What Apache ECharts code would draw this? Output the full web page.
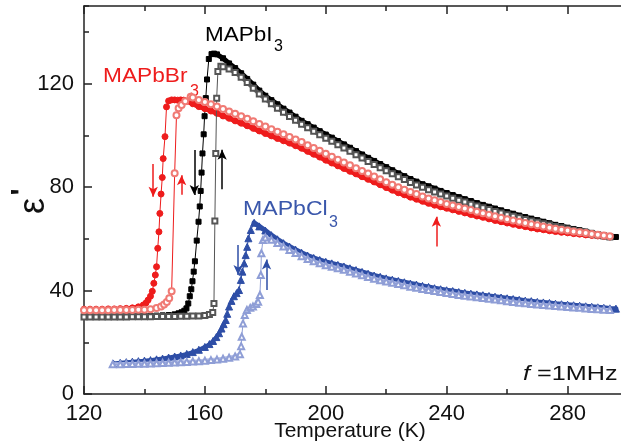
<!DOCTYPE html>
<html>
<head>
<meta charset="utf-8">
<script src="https://cdn.jsdelivr.net/npm/echarts@6/dist/echarts.min.js"></script>
<style>
html,body{margin:0;padding:0;background:#fff;}
#chart{width:621px;height:445px;}
</style>
</head>
<body>
<div id="chart"></div>
<script>
// ---- Data (Temperature K, epsilon') ----
const xTicks = [120, 160, 200, 240, 280];
const yTicks = [0, 40, 80, 120];
const xTitle = 'Temperature (K)';

const MAPbI3_cooling = [[120,30.0],[122,30.0],[124,30.0],[126,30.0],[128,30.0],[130,30.0],[132,30.0],[134,30.1],[136,30.1],[138,30.1],[140,30.2],[142,30.2],[144,30.3],[146,30.4],[148,30.5],[150,30.8],[151.3,31.2],[152.3,31.6],[153.2,32.2],[153.9,33.1],[154.5,35.0],[155.0,37.8],[155.5,40.5],[155.9,43.6],[156.3,47.3],[156.7,51.3],[157.3,59.3],[157.9,66.6],[158.3,72.5],[158.6,78.5],[158.9,85.6],[159.2,93.0],[159.6,100.4],[159.9,107.4],[160.3,114.4],[160.7,121.6],[161.3,129.5],[162.2,131.4],[163,131.6],[164,131.3],[166,129.8],[168,127.8],[170,126.0],[172,124.0],[174,121.8],[176,119.6],[178,117.3],[180,115.3],[182,113.6],[184,112.0],[186,110.3],[188,108.8],[190,107.2],[192,105.6],[194,104.3],[196,103.0],[198,101.6],[200,100.3],[202,99.1],[204,97.8],[206,96.5],[208,95.2],[210,93.9],[212,92.6],[214,91.3],[216,90.1],[218,88.9],[220,87.7],[222,86.5],[224,85.3],[226,84.2],[228,83.1],[230,82.1],[232,81.1],[234,80.3],[236,79.4],[238,78.5],[240,77.7],[242,76.9],[244,76.1],[246,75.3],[248,74.6],[250,73.8],[252,73.1],[254,72.4],[256,71.7],[258,71.0],[260,70.3],[262,69.7],[264,69.0],[266,68.4],[268,67.8],[270,67.2],[272,66.6],[274,66.0],[276,65.4],[278,64.9],[280,64.3],[282,63.8],[284,63.3],[286,62.8],[288,62.3],[290,61.8],[292,61.4],[294,61.0],[296,60.7]];

const MAPbI3_heating = [[120,29.8],[122,29.8],[124,29.8],[126,29.8],[128,29.8],[130,29.8],[132,29.8],[134,29.8],[136,29.9],[138,29.9],[140,29.9],[142,29.9],[144,30.0],[146,30.0],[148,30.0],[150,30.0],[152,30.1],[154,30.1],[156,30.2],[158,30.2],[160,30.3],[161.5,30.7],[162.6,31.5],[163.0,35.0],[163.3,66.9],[163.6,93.0],[163.9,114.3],[164.3,124.7],[165.3,126.7],[166,126.5],[168,125.6],[170,124.3],[172,122.5],[174,120.4],[176,118.2],[178,116.0],[180,114.0],[182,112.2],[184,110.5],[186,108.9],[188,107.3],[190,105.8],[192,104.3],[194,102.9],[196,101.6],[198,100.2],[200,98.9],[202,97.7],[204,96.4],[206,95.1],[208,93.8],[210,92.5],[212,91.2],[214,89.9],[216,88.7],[218,87.5],[220,86.3],[222,85.1],[224,84.0],[226,82.9],[228,81.8],[230,80.8],[232,79.9],[234,79.0],[236,78.1],[238,77.3],[240,76.5],[242,75.7],[244,74.9],[246,74.2],[248,73.4],[250,72.7],[252,72.0],[254,71.3],[256,70.6],[258,70.0],[260,69.3],[262,68.7],[264,68.1],[266,67.5],[268,66.9],[270,66.4],[272,65.8],[274,65.3],[276,64.8],[278,64.3],[280,63.8],[282,63.3],[284,62.8],[286,62.4],[288,61.9],[290,61.5],[292,61.1],[294,60.7]];

const MAPbBr3_cooling = [[120,32.8],[122,32.8],[124,32.8],[126,32.8],[128,32.9],[130,32.9],[132,33.0],[134,33.1],[136,33.3],[138,33.7],[139.6,34.4],[140.5,35.2],[141.2,36.3],[142.0,37.8],[142.6,39.7],[143.1,42.8],[143.6,46.0],[144.0,49.2],[144.4,56.3],[144.8,62.7],[145.1,69.8],[145.5,77.3],[145.9,83.7],[146.2,91.0],[146.8,99.5],[147.3,111.0],[148,113.3],[149,113.7],[150,113.7],[151,113.6],[152,113.7],[153,113.6],[154,113.2],[156,112.2],[158,111.1],[160,110.3],[162,109.4],[164,108.5],[166,107.5],[168,106.6],[170,105.6],[172,104.7],[174,103.7],[176,102.7],[178,101.7],[180,100.7],[182,99.8],[184,98.8],[186,97.9],[188,97.0],[190,96.0],[192,95.0],[194,93.8],[196,92.7],[198,91.6],[200,90.4],[202,89.3],[204,88.2],[206,87.2],[208,86.1],[210,85.1],[212,84.0],[214,83.0],[216,82.0],[218,80.9],[220,79.8],[222,78.8],[224,77.8],[226,77.0],[228,76.1],[230,75.3],[232,74.5],[234,73.7],[236,73.0],[238,72.4],[240,71.8],[242,71.2],[244,70.6],[246,70.0],[248,69.4],[250,68.8],[252,68.3],[254,67.7],[256,67.1],[258,66.6],[260,66.1],[262,65.6],[264,65.1],[266,64.7],[268,64.2],[270,63.8],[272,63.5],[274,63.1],[276,62.8],[278,62.5],[280,62.3],[282,62.0],[284,61.8],[286,61.5],[288,61.3],[290,61.1],[292,60.9],[294,60.7]];

const MAPbBr3_heating = [[120,32.4],[122,32.4],[124,32.4],[126,32.4],[128,32.4],[130,32.5],[132,32.5],[134,32.5],[136,32.5],[138,32.6],[140,32.6],[142,32.8],[144,33.2],[145.5,33.8],[146.5,34.6],[147.4,35.6],[148.2,37.0],[149.0,39.7],[150.0,85.3],[150.6,107.8],[151.3,110.5],[152.3,111.7],[153.5,113.2],[155.3,114.9],[156,114.6],[158,113.7],[160,112.9],[162,112.0],[164,111.1],[166,110.2],[168,109.2],[170,108.3],[172,107.4],[174,106.4],[176,105.4],[178,104.4],[180,103.4],[182,102.4],[184,101.4],[186,100.4],[188,99.4],[190,98.4],[192,97.4],[194,96.2],[196,95.1],[198,94.0],[200,92.9],[202,91.7],[204,90.6],[206,89.5],[208,88.4],[210,87.3],[212,86.2],[214,85.2],[216,84.1],[218,83.0],[220,81.9],[222,80.9],[224,79.9],[226,79.0],[228,78.1],[230,77.3],[232,76.4],[234,75.6],[236,74.9],[238,74.2],[240,73.5],[242,72.9],[244,72.3],[246,71.7],[248,71.1],[250,70.5],[252,69.9],[254,69.3],[256,68.7],[258,68.1],[260,67.6],[262,67.1],[264,66.6],[266,66.1],[268,65.6],[270,65.2],[272,64.8],[274,64.3],[276,63.9],[278,63.5],[280,63.2],[282,62.8],[284,62.5],[286,62.2],[288,61.9],[290,61.6],[292,61.3],[294,61.0]];

const MAPbCl3_cooling = [[129.7,11.8],[132,12.1],[134,12.3],[136,12.5],[138,12.7],[140,12.9],[142,13.1],[144,13.4],[146,13.7],[148,14.1],[150,14.5],[152,14.9],[154,15.5],[156,16.2],[158,17.1],[160,18.2],[161.5,19.3],[162.7,20.5],[163.8,22.0],[164.7,23.5],[165.5,25.3],[166.2,27.0],[166.9,28.6],[167.4,31.0],[168,33.8],[168.8,36.0],[169.6,37.8],[170.5,39.0],[171.3,40.2],[171.9,44.1],[172.4,47.3],[173,50.5],[173.5,53.7],[174,56.9],[174.4,60.2],[175.2,63.4],[176.3,66.2],[178,64.8],[180,63.2],[182,61.4],[184,59.8],[186,58.3],[188,57.0],[190,55.8],[192,54.6],[194,53.5],[196,52.6],[198,51.8],[200,51.1],[202,50.5],[204,49.9],[206,49.3],[208,48.6],[210,47.9],[212,47.2],[214,46.5],[216,45.8],[218,45.3],[220,44.7],[222,44.2],[224,43.7],[226,43.2],[228,42.7],[230,42.3],[232,41.8],[234,41.4],[236,40.9],[238,40.5],[240,40.1],[242,39.8],[244,39.4],[246,39.1],[248,38.8],[250,38.5],[252,38.2],[254,37.9],[256,37.6],[258,37.3],[260,37.0],[262,36.7],[264,36.4],[266,36.1],[268,35.9],[270,35.6],[272,35.4],[274,35.2],[276,34.9],[278,34.7],[280,34.5],[282,34.3],[284,34.1],[286,33.9],[288,33.7],[290,33.5],[292,33.3],[294,33.1],[296,33.0]];

const MAPbCl3_heating = [[129.5,11.5],[132,11.5],[134,11.6],[136,11.6],[138,11.7],[140,11.7],[142,11.8],[144,11.9],[146,12.0],[148,12.1],[150,12.2],[152,12.3],[154,12.4],[156,12.6],[158,12.7],[160,12.9],[162,13.1],[164,13.3],[166,13.6],[168,14.0],[170,14.5],[171.6,15.4],[172.0,18.5],[172.2,22.1],[172.6,27.3],[173.2,30.5],[173.9,32.5],[175,33.3],[175.9,33.8],[177,34.8],[177.6,35.7],[178.2,38.3],[178.5,46.0],[178.7,54.4],[179.2,59.5],[180,60.5],[182,59.6],[184,58.4],[186,57.0],[188,55.7],[190,54.5],[192,53.3],[194,52.2],[196,51.3],[198,50.5],[200,49.8],[202,49.2],[204,48.6],[206,48.0],[208,47.3],[210,46.6],[212,45.9],[214,45.2],[216,44.6],[218,44.0],[220,43.5],[222,43.0],[224,42.5],[226,42.0],[228,41.5],[230,41.1],[232,40.6],[234,40.2],[236,39.8],[238,39.4],[240,39.0],[242,38.7],[244,38.3],[246,38.0],[248,37.7],[250,37.4],[252,37.1],[254,36.8],[256,36.5],[258,36.2],[260,35.9],[262,35.6],[264,35.3],[266,35.1],[268,34.8],[270,34.6],[272,34.4],[274,34.2],[276,34.0],[278,33.8],[280,33.6],[282,33.4],[284,33.3],[286,33.1],[288,32.9],[290,32.8],[292,32.6],[294,32.5]];

// arrows: [startT, startV, endT, endV] (arrow head at end)
const arrowsBr = [[142.9, 88.9, 142.9, 76.3], [152.3, 77.0, 152.3, 84.6], [236.6, 57.0, 236.6, 68.5]];
const arrowsI  = [[156.5, 94.3, 156.5, 76.9], [165.7, 79.2, 165.7, 94.4]];
const arrowsCl = [[171.0, 57.6, 171.0, 46.0], [180.4, 40.2, 180.4, 52.0]];

// ---- Chart ----
const FONT = '"Liberation Sans", Arial, Helvetica, sans-serif';
const AXC = '#222';
const C_BLACK = '#000000', C_GREY = '#555555';
const C_RED = '#ee1c1c', C_PINK = '#f07a74';
const C_BLUE = '#2e4ea6', C_LBLUE = '#8f9ed6';

function arrowLines(list, color) {
  return {
    silent: true, symbol: ['none', 'arrow'], symbolSize: [7, 10],
    label: {show: false},
    lineStyle: {color: color, width: 1.5, type: 'solid'},
    emphasis: {disabled: true},
    data: list.map(a => [{coord: [a[0], a[1]]}, {coord: [a[2], a[3]]}])
  };
}

const chart = echarts.init(document.getElementById('chart'), null, {renderer: 'canvas'});

const xBase = {type: 'value', min: 120, max: 300, gridIndex: 0};
const yBase = {type: 'value', min: 0, max: 150, gridIndex: 0};

function line(name, data, symbol, size, color, lineColor, z, markLine) {
  const s = {
    name: name, type: 'line', data: data, xAxisIndex: 0, yAxisIndex: 0,
    symbol: symbol, symbolSize: size, showSymbol: true, showAllSymbol: true,
    lineStyle: {color: lineColor, width: 1},
    itemStyle: {color: color, borderColor: color, borderWidth: 1},
    z: z, animation: false, silent: true
  };
  if (markLine) s.markLine = markLine;
  return s;
}
// thick band under the densely measured stretches of a curve
function band(data, tmin, tmax, color, width, z) {
  return {
    type: 'line', xAxisIndex: 0, yAxisIndex: 0, silent: true, animation: false,
    data: data.filter(p => p[0] >= tmin && p[0] <= tmax),
    showSymbol: false, symbol: 'none',
    lineStyle: {color: color, width: width, cap: 'round', join: 'round'}, z: z
  };
}

chart.setOption({
  animation: false,
  backgroundColor: '#fff',
  textStyle: {fontFamily: FONT},
  grid: {left: 84, right: -7, top: 6, bottom: 51, containLabel: false, outerBoundsMode: 'none'},
  xAxis: [
    Object.assign({}, xBase, {
      position: 'bottom', interval: 40,
      axisLine: {show: true, lineStyle: {color: AXC, width: 1.5}},
      axisTick: {show: true, inside: true, length: 8, lineStyle: {color: AXC, width: 1.5}},
      axisLabel: {show: true, margin: 9, fontSize: 22, color: '#111', fontFamily: FONT, showMaxLabel: false},
      splitLine: {show: false}
    }),
    Object.assign({}, xBase, {
      position: 'bottom', interval: 20,
      axisLine: {show: false},
      axisTick: {show: true, inside: true, length: 5, lineStyle: {color: AXC, width: 1.5}},
      axisLabel: {show: false}, splitLine: {show: false}
    }),
    Object.assign({}, xBase, {
      position: 'top', interval: 40,
      axisLine: {show: true, lineStyle: {color: AXC, width: 1.5}},
      axisTick: {show: true, inside: true, length: 8, lineStyle: {color: AXC, width: 1.5}},
      axisLabel: {show: false}, splitLine: {show: false}
    }),
    Object.assign({}, xBase, {
      position: 'top', interval: 20,
      axisLine: {show: false},
      axisTick: {show: true, inside: true, length: 5, lineStyle: {color: AXC, width: 1.5}},
      axisLabel: {show: false}, splitLine: {show: false}
    })
  ],
  yAxis: [
    Object.assign({}, yBase, {
      position: 'left', interval: 40,
      axisLine: {show: true, lineStyle: {color: AXC, width: 1.5}},
      axisTick: {show: true, inside: true, length: 8, lineStyle: {color: AXC, width: 1.5}},
      axisLabel: {show: true, margin: 10, fontSize: 22, color: '#111', fontFamily: FONT, showMaxLabel: false},
      splitLine: {show: false}
    }),
    Object.assign({}, yBase, {
      position: 'left', interval: 20,
      axisLine: {show: false},
      axisTick: {show: true, inside: true, length: 5, lineStyle: {color: AXC, width: 1.5}},
      axisLabel: {show: false}, splitLine: {show: false}
    })
  ],
  series: [
    band(MAPbI3_cooling, 120, 152.3, C_BLACK, 4, 2),
    band(MAPbI3_cooling, 162.2, 300, C_BLACK, 5, 2),
    band(MAPbBr3_cooling, 120, 139.6, C_RED, 4, 2),
    band(MAPbBr3_cooling, 148, 300, C_RED, 5, 2),
    band(MAPbCl3_cooling, 120, 166.2, C_BLUE, 4, 2),
    band(MAPbCl3_cooling, 176.3, 300, C_BLUE, 5, 2),
    band(MAPbI3_heating, 120, 162.6, '#777', 4, 4),
    band(MAPbI3_heating, 165.3, 300, '#666', 4, 4),
    band(MAPbBr3_heating, 120, 148.2, '#f6b0aa', 4, 4),
    band(MAPbBr3_heating, 152.3, 300, '#f4a49e', 4, 4),
    band(MAPbCl3_heating, 120, 171.6, '#b3bde6', 4, 4),
    band(MAPbCl3_heating, 180, 300, '#aeb9e4', 4, 4),
    line('MAPbI3 cooling', MAPbI3_cooling, 'rect', 5, C_BLACK, C_BLACK, 3, arrowLines(arrowsI, C_BLACK)),
    line('MAPbBr3 cooling', MAPbBr3_cooling, 'circle', 6, C_RED, C_RED, 3, arrowLines(arrowsBr, C_RED)),
    line('MAPbCl3 cooling', MAPbCl3_cooling, 'triangle', 7, C_BLUE, C_BLUE, 3, arrowLines(arrowsCl, C_BLUE)),
    line('MAPbI3 heating', MAPbI3_heating, 'emptyRect', 5, C_GREY, C_GREY, 5),
    line('MAPbBr3 heating', MAPbBr3_heating, 'emptyCircle', 6, C_PINK, C_RED, 5),
    line('MAPbCl3 heating', MAPbCl3_heating, 'emptyTriangle', 6, C_LBLUE, C_LBLUE, 5)
  ],
  graphic: [
    {type: 'text', x: 350, y: 431, style: {text: xTitle, font: '21px ' + FONT, fill: '#111', textAlign: 'center', textVerticalAlign: 'middle'}},
    {type: 'text', x: 205, y: 35, scaleX: 1.07, style: {text: 'MAPbI', font: '21px ' + FONT, fill: '#000', textAlign: 'left', textVerticalAlign: 'middle'}},
    {type: 'text', x: 274, y: 47, style: {text: '3', font: '16px ' + FONT, fill: '#000', textAlign: 'left', textVerticalAlign: 'middle'}},
    {type: 'text', x: 103, y: 76, scaleX: 1.08, style: {text: 'MAPbBr', font: '21px ' + FONT, fill: C_RED, textAlign: 'left', textVerticalAlign: 'middle'}},
    {type: 'text', x: 190, y: 92, style: {text: '3', font: '16px ' + FONT, fill: C_RED, textAlign: 'left', textVerticalAlign: 'middle'}},
    {type: 'text', x: 243, y: 209, scaleX: 1.1, style: {text: 'MAPbCl', font: '21px ' + FONT, fill: '#3a57ab', textAlign: 'left', textVerticalAlign: 'middle'}},
    {type: 'text', x: 329, y: 223, style: {text: '3', font: '16px ' + FONT, fill: '#3a57ab', textAlign: 'left', textVerticalAlign: 'middle'}},
    {type: 'text', x: 523, y: 374, scaleX: 1.2, style: {
      text: '{i|f} =1MHz', font: '21px ' + FONT, fill: '#111', textAlign: 'left', textVerticalAlign: 'middle',
      rich: {i: {fontStyle: 'italic', fontSize: 21, fontFamily: FONT, fill: '#111'}}
    }},
    {type: 'text', x: 34, y: 206, rotation: Math.PI / 2, style: {text: 'ε', font: '36px ' + FONT, fill: '#111', textAlign: 'center', textVerticalAlign: 'middle'}},
    {type: 'text', x: 23, y: 192, rotation: Math.PI / 2, style: {text: "'", font: 'bold 30px ' + FONT, fill: '#111', textAlign: 'center', textVerticalAlign: 'middle'}}
  ]
});
</script>
</body>
</html>
